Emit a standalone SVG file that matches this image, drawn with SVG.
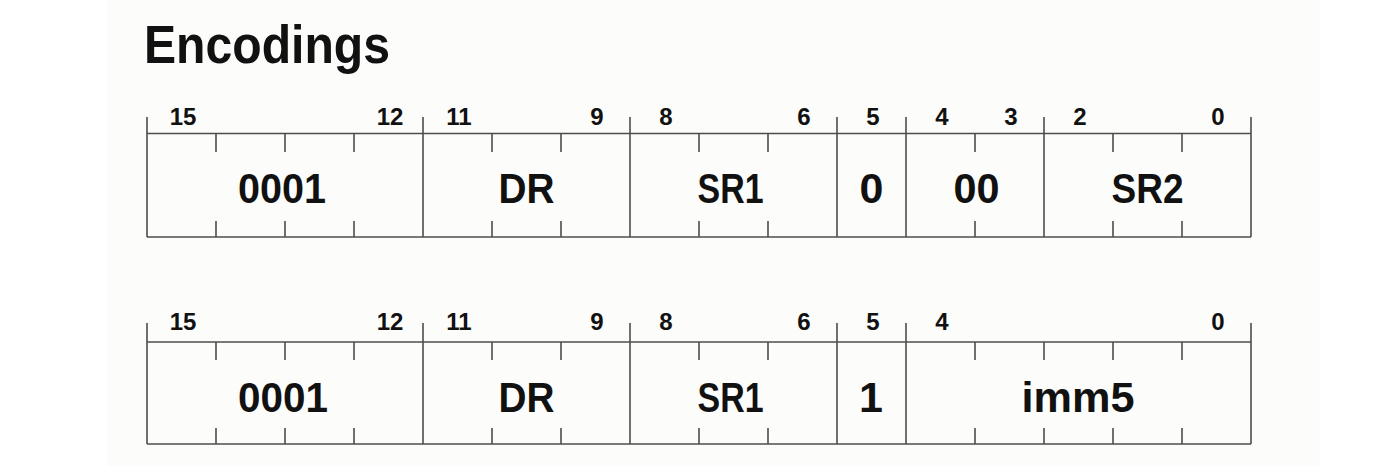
<svg xmlns="http://www.w3.org/2000/svg" width="1386" height="466" viewBox="0 0 1386 466">
<style>
.ln{stroke:#4d4d4d;stroke-width:1.6;fill:none}
.num{font-family:"Liberation Sans",Arial,sans-serif;font-weight:bold;font-size:24px;fill:#111;text-anchor:middle}
.lab{font-family:"Liberation Sans",Arial,sans-serif;font-weight:bold;font-size:43px;fill:#111;text-anchor:middle}
.title{font-family:"Liberation Sans",Arial,sans-serif;font-weight:bold;font-size:53px;fill:#111}
</style>
<rect x="0" y="0" width="1386" height="466" fill="#ffffff"/>
<rect x="107" y="0" width="1213" height="466" fill="#fcfcfa"/>
<text id="title" class="title" x="144" y="63" textLength="246" lengthAdjust="spacingAndGlyphs">Encodings</text>

<g id="row1">
  <g id="connectors-row1">
    <path class="ln" d="M147 133.5H1251M147 237H1251"/>
    <path class="ln" d="M147 117V237M423 117V237M630 117V237M837 117V237M906 117V237M1044 117V237M1251 117V237"/>
    <path class="ln" d="M216 133.5V152M285 133.5V152M354 133.5V152M492 133.5V152M561 133.5V152M699 133.5V152M768 133.5V152M975 133.5V152M1113 133.5V152M1182 133.5V152"/>
    <path class="ln" d="M216 221V237M285 221V237M354 221V237M492 221V237M561 221V237M699 221V237M768 221V237M975 221V237M1113 221V237M1182 221V237"/>
  </g>
  <g id="r1-opcode"><text class="num" x="183" y="125">15</text><text class="num" x="390" y="125">12</text><text class="lab" x="282" y="203" textLength="88" lengthAdjust="spacingAndGlyphs">0001</text></g>
  <g id="r1-dr"><text class="num" x="459" y="125">11</text><text class="num" x="597" y="125">9</text><text class="lab" x="526.5" y="203" textLength="56" lengthAdjust="spacingAndGlyphs">DR</text></g>
  <g id="r1-sr1"><text class="num" x="666" y="125">8</text><text class="num" x="804" y="125">6</text><text class="lab" x="730.5" y="203" textLength="66" lengthAdjust="spacingAndGlyphs">SR1</text></g>
  <g id="r1-mode"><text class="num" x="873" y="125">5</text><text class="lab" x="871.5" y="203">0</text></g>
  <g id="r1-pad"><text class="num" x="942" y="125">4</text><text class="num" x="1011" y="125">3</text><text class="lab" x="976.5" y="203" textLength="46" lengthAdjust="spacingAndGlyphs">00</text></g>
  <g id="r1-sr2"><text class="num" x="1080" y="125">2</text><text class="num" x="1218" y="125">0</text><text class="lab" x="1147.5" y="203" textLength="72" lengthAdjust="spacingAndGlyphs">SR2</text></g>
</g>

<g id="row2">
  <g id="connectors-row2">
    <path class="ln" d="M147 342H1251M147 444H1251"/>
    <path class="ln" d="M147 323V444M423 323V444M630 323V444M837 323V444M906 323V444M1251 323V444"/>
    <path class="ln" d="M216 342V360M285 342V360M354 342V360M492 342V360M561 342V360M699 342V360M768 342V360M975 342V360M1044 342V360M1113 342V360M1182 342V360"/>
    <path class="ln" d="M216 428V444M285 428V444M354 428V444M492 428V444M561 428V444M699 428V444M768 428V444M975 428V444M1044 428V444M1113 428V444M1182 428V444"/>
  </g>
  <g id="r2-opcode"><text class="num" x="183" y="330">15</text><text class="num" x="390" y="330">12</text><text class="lab" x="283" y="411.5" textLength="90" lengthAdjust="spacingAndGlyphs">0001</text></g>
  <g id="r2-dr"><text class="num" x="459" y="330">11</text><text class="num" x="597" y="330">9</text><text class="lab" x="526.5" y="411.5" textLength="56" lengthAdjust="spacingAndGlyphs">DR</text></g>
  <g id="r2-sr1"><text class="num" x="666" y="330">8</text><text class="num" x="804" y="330">6</text><text class="lab" x="730.5" y="411.5" textLength="66" lengthAdjust="spacingAndGlyphs">SR1</text></g>
  <g id="r2-mode"><text class="num" x="873" y="330">5</text><text class="lab" x="871" y="411.5">1</text></g>
  <g id="r2-imm5"><text class="num" x="942" y="330">4</text><text class="num" x="1218" y="330">0</text><text class="lab" x="1078" y="411.5" textLength="113" lengthAdjust="spacingAndGlyphs">imm5</text></g>
</g>
</svg>
